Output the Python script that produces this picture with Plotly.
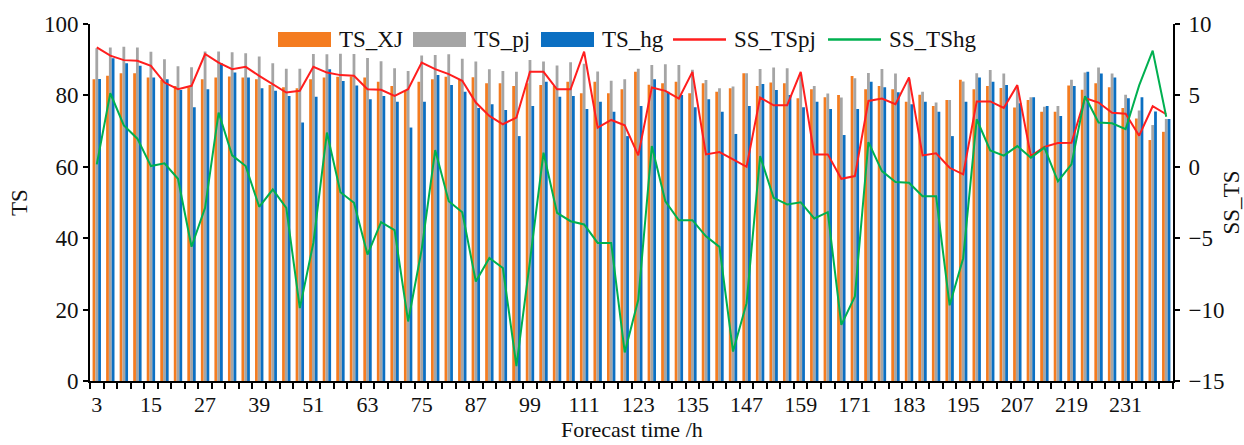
import plotly.graph_objects as go

# Forecast lead times (h) and labelled ticks
hours = list(range(3, 241, 3))
tick_hours = list(range(3, 232, 12))

# Threat scores (%) of the three forecasts
ts_xj = [
    84.5, 85.5, 86.2, 86.2, 85.0, 84.3, 82.6, 82.3, 84.5, 85.0,
    85.3, 85.0, 84.5, 82.9, 82.3, 82.0, 84.5, 85.0, 85.2, 85.3,
    85.0, 83.8, 82.6, 81.2, 83.8, 84.5, 85.2, 84.3, 85.1, 83.4,
    83.4, 82.6, 83.4, 82.9, 82.6, 83.8, 80.6, 83.8, 80.6, 81.7,
    86.6, 83.0, 83.4, 83.8, 80.6, 83.4, 81.0, 82.0, 86.2, 82.6,
    83.6, 83.4, 79.2, 81.7, 79.5, 80.1, 85.4, 81.7, 82.6, 81.7,
    78.2, 80.2, 77.0, 78.7, 84.4, 81.7, 82.6, 82.1, 76.6, 78.7,
    75.4, 75.4, 82.8, 81.6, 83.4, 82.3, 76.5, 73.5, 67.5, 69.8,
]
ts_pj = [
    93.2, 93.4, 93.6, 93.4, 92.2, 90.1, 88.2, 87.9, 92.3, 92.3,
    92.1, 91.8, 90.9, 89.0, 87.5, 87.5, 91.6, 91.5, 91.7, 91.6,
    90.5, 89.6, 87.6, 86.8, 91.2, 91.3, 91.5, 90.3, 89.5, 87.3,
    86.8, 86.6, 89.9, 89.5, 88.4, 89.3, 88.9, 86.7, 84.1, 84.5,
    87.5, 88.5, 88.7, 88.5, 87.2, 84.3, 82.0, 82.5, 86.2, 87.4,
    87.8, 87.6, 85.9, 82.6, 80.5, 79.4, 84.8, 86.3, 87.4, 86.1,
    84.5, 81.0, 78.0, 78.7, 83.9, 86.2, 87.1, 86.1, 82.2, 79.5,
    76.8, 77.0, 84.4, 86.4, 87.8, 86.1, 80.2, 75.8, 71.7, 73.4,
]
ts_hg = [
    84.6, 90.4, 89.0, 88.3, 85.0, 84.5, 81.5, 76.7, 81.7, 89.0,
    86.4, 85.0, 82.0, 81.3, 79.8, 72.4, 79.6, 87.3, 84.0, 82.8,
    78.9, 79.8, 78.2, 71.0, 78.2, 85.7, 82.9, 81.0, 76.5, 77.5,
    75.9, 68.6, 77.0, 83.8, 79.6, 79.8, 76.2, 78.2, 75.4, 68.6,
    77.0, 84.5, 81.0, 80.1, 76.7, 78.9, 75.4, 69.2, 77.0, 83.2,
    81.5, 80.1, 76.7, 78.2, 76.2, 68.9, 76.2, 83.8, 82.3, 80.9,
    77.5, 78.2, 75.4, 68.6, 78.2, 85.0, 83.8, 82.9, 77.8, 79.5,
    77.0, 74.2, 82.6, 86.6, 86.1, 85.0, 79.2, 79.5, 75.5, 73.4,
]

# Skill scores (right axis)
ss_tspj = [
    8.36, 7.78, 7.47, 7.42, 7.07, 5.90, 5.43, 5.67, 7.90, 7.30,
    6.84, 7.00, 6.37, 5.79, 5.20, 5.32, 7.00, 6.60, 6.42, 6.37,
    5.43, 5.39, 4.97, 5.43, 7.30, 6.84, 6.49, 6.02, 4.50, 3.56,
    2.98, 3.45, 6.65, 6.65, 5.43, 5.43, 8.06, 2.74, 3.28, 2.90,
    0.80, 5.55, 5.32, 4.78, 6.65, 0.87, 1.03, 0.52, 0.00, 4.85,
    4.31, 4.31, 6.65, 0.87, 0.87, -0.84, -0.65, 4.61, 4.78, 4.38,
    6.26, 0.80, 0.94, -0.07, -0.53, 4.58, 4.58, 4.12, 5.72, 0.75,
    1.40, 1.66, 1.69, 4.82, 4.50, 3.78, 3.72, 2.18, 4.24, 3.68,
]
ss_tshg = [
    0.17, 5.15, 2.90, 1.97, 0.05, 0.24, -0.84, -5.60, -2.87, 3.80,
    0.80, 0.05, -2.80, -1.59, -2.87, -9.90, -5.33, 2.40, -1.78, -2.52,
    -6.15, -3.88, -4.44, -10.83, -5.80, 1.17, -2.41, -3.18, -8.03, -6.39,
    -7.09, -13.95, -6.60, 0.99, -3.22, -3.81, -4.04, -5.33, -5.33, -13.00,
    -9.31, 1.45, -2.41, -3.75, -3.74, -4.87, -5.61, -12.94, -9.55, 0.75,
    -2.17, -2.64, -2.48, -3.62, -3.18, -11.07, -9.08, 1.73, -0.30, -1.07,
    -1.12, -2.06, -2.06, -9.70, -6.40, 3.33, 1.15, 0.78, 1.45, 0.64,
    1.34, -1.02, 0.17, 4.94, 3.10, 3.05, 2.63, 5.70, 8.13, 3.50,
]

bar_series = [("TS_XJ", ts_xj, "#F47C20"), ("TS_pj", ts_pj, "#A5A5A5"), ("TS_hg", ts_hg, "#0B6FC2")]
line_series = [("SS_TSpj", ss_tspj, "#FF1E1E"), ("SS_TShg", ss_tshg, "#00B050")]

FONT = "Liberation Serif, Times New Roman, serif"
FS = 23
TXT = "#111"
fig = go.Figure()

for name, vals, col in bar_series:
    fig.add_trace(go.Bar(x=hours, y=vals, name=name, marker=dict(color=col, line=dict(width=0)),
                         showlegend=False))
for name, vals, col in line_series:
    fig.add_trace(go.Scatter(x=hours, y=vals, name=name, mode="lines", yaxis="y2",
                             line=dict(color=col, width=2), showlegend=False))

# Plot-area geometry (px) used to place the legend row and the x-axis caption
W, H, X0, YB = 1083.0, 357.0, 90.0, 381.0

# Hand-drawn legend row along the top of the plot
legend_x = [278, 413, 541, 673, 828]
items = [(n, c, "bar") for n, _, c in bar_series] + [(n, c, "line") for n, _, c in line_series]
for (name, col, kind), px in zip(items, legend_x):
    xa, xb = (px - X0) / W, (px + 53 - X0) / W
    if kind == "bar":
        fig.add_shape(type="rect", xref="paper", yref="paper", x0=xa, x1=xb,
                      y0=(YB - 47) / H, y1=(YB - 32) / H, fillcolor=col, line=dict(width=0))
    else:
        fig.add_shape(type="line", xref="paper", yref="paper", x0=xa, x1=xb,
                      y0=(YB - 39.5) / H, y1=(YB - 39.5) / H, line=dict(color=col, width=2.5))
    fig.add_annotation(text=name, xref="paper", yref="paper", x=(px + 59 - X0) / W,
                       y=(YB - 39.5) / H, xanchor="left", yanchor="middle", showarrow=False,
                       font=dict(family=FONT, size=FS, color=TXT))

# x-axis caption below the tick labels
fig.add_annotation(text="Forecast time /h", xref="paper", yref="paper", x=(632 - X0) / W,
                   y=(YB - 444) / H, xanchor="center", yanchor="bottom", showarrow=False,
                   font=dict(family=FONT, size=22, color=TXT))

axis_common = dict(showline=True, linecolor="black", linewidth=2, showgrid=False, zeroline=False,
                   automargin=False, tickfont=dict(family=FONT, size=FS, color=TXT))

fig.update_layout(
    width=1244, height=445,
    margin=dict(l=90, r=71, t=24, b=64),
    paper_bgcolor="white", plot_bgcolor="white",
    barmode="group", bargap=0.38, bargroupgap=0.0,
    xaxis=dict(
        **axis_common,
        range=[1.5, 241.5],
        tickmode="array", tickvals=tick_hours, ticktext=[str(h) for h in tick_hours],
        ticks="outside", ticklen=3, tickcolor="rgba(0,0,0,0)",
        minor=dict(tickmode="array", tickvals=[h - 1.5 for h in hours] + [241.5],
                   ticks="outside", ticklen=6, tickwidth=2, tickcolor="black"),
    ),
    yaxis=dict(
        **axis_common,
        range=[0, 100], tickmode="array", tickvals=[0, 20, 40, 60, 80, 100],
        ticks="outside", ticklen=5, tickwidth=2, tickcolor="black",
        title=dict(text="TS", font=dict(family=FONT, size=FS, color=TXT), standoff=10),
    ),
    yaxis2=dict(
        **axis_common,
        overlaying="y", side="right",
        range=[-15, 10], tickmode="array", tickvals=[-15, -10, -5, 0, 5, 10],
        ticks="outside", ticklen=5, tickwidth=2, tickcolor="black",
        ticklabelstandoff=4,
        title=dict(text="SS_TS", font=dict(family=FONT, size=FS, color=TXT), standoff=6),
    ),
)
fig.update_xaxes(tickfont=dict(family=FONT, size=22, color=TXT))

fig.write_html("out.html")
